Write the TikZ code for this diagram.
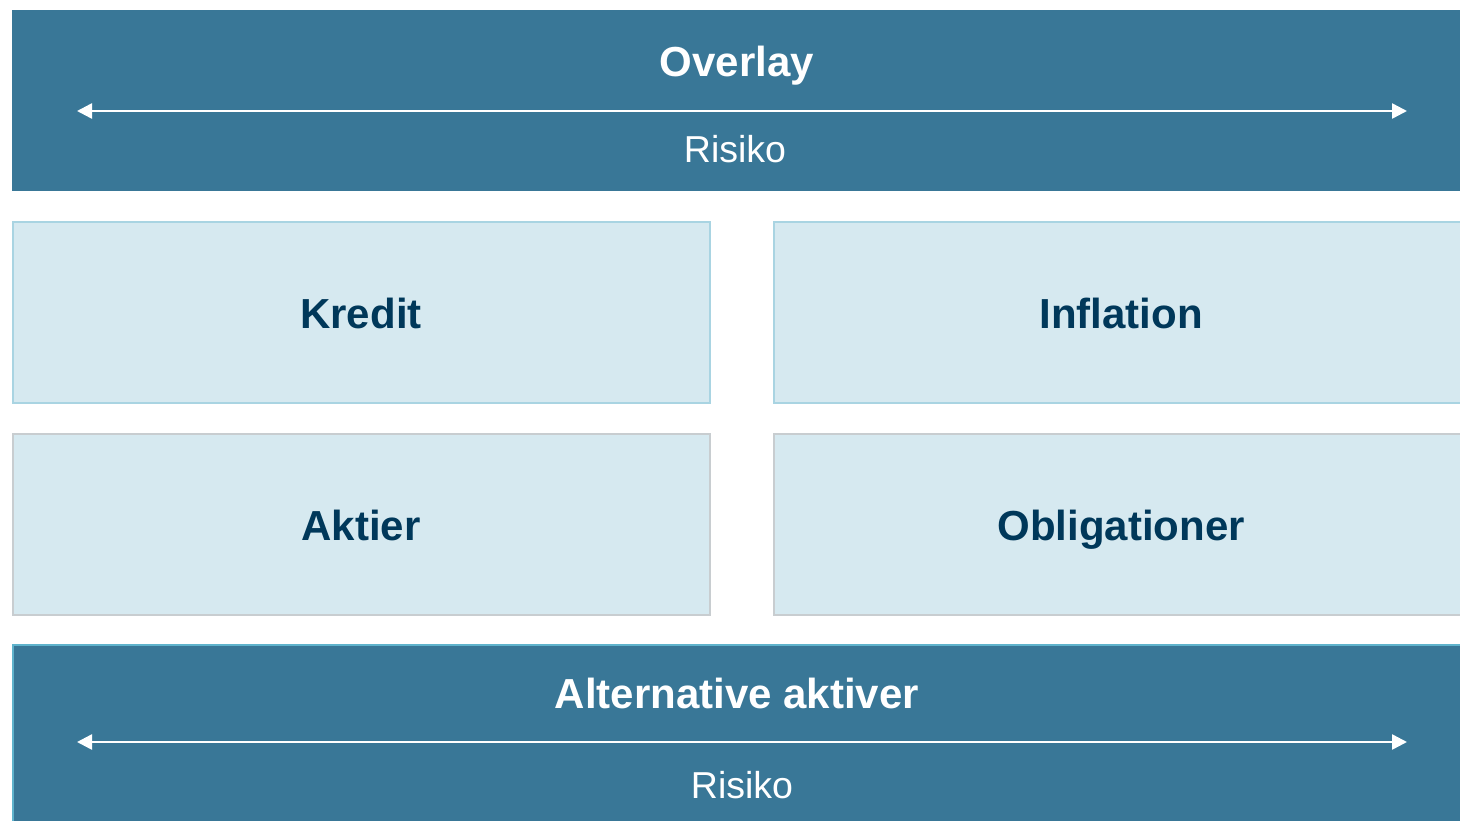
\documentclass[tikz,border=0pt]{standalone}
\usepackage{fontspec}
\setmainfont{Liberation Sans}
\usetikzlibrary{arrows.meta}
\definecolor{darkbox}{HTML}{397797}
\definecolor{lightbox}{HTML}{D6E9F0}
\definecolor{txtdark}{HTML}{00385A}
\definecolor{bordblue}{HTML}{A9D4E2}
\definecolor{bordgray}{HTML}{C8CDD0}
\definecolor{bordbot}{HTML}{5FB3CC}
\tikzset{
  x=1pt, y=-1pt,
  darkpanel/.style={fill=darkbox, draw=none},
  lightpanel/.style={fill=lightbox, draw=#1, line width=2pt},
  boldlbl/.style={font=\fontsize{42}{42}\selectfont\bfseries, text=txtdark, inner sep=0pt, text height=30pt, text depth=0pt},
  titlelbl/.style={font=\fontsize{42}{42}\selectfont\bfseries, text=white, inner sep=0pt, text height=30pt, text depth=0pt},
  risklbl/.style={font=\fontsize{37.5}{37.5}\selectfont, text=white, inner sep=0pt, text height=26.9pt, text depth=0pt},
  riskarrow/.style={draw=white, line width=2.5pt, {Triangle[length=15pt,width=15pt]}-{Triangle[length=15pt,width=15pt]}}
}
\begin{document}
\begin{tikzpicture}
\useasboundingbox (0,0) rectangle (1460,820);
\fill[white] (0,0) rectangle (1460,820);
% top panel
\path[darkpanel] (12,10) rectangle (1460,191);
\node[titlelbl] (overlay) at (737,61) {Overlay};
\coordinate (tl) at (77,111);
\coordinate (tr) at (1407,111);
\draw[riskarrow] (tl) -- (tr);
\node[risklbl] (risk1) at (735,149) {Risiko};
% middle boxes
\draw[lightpanel=bordblue] (13,222) rectangle (710,403);
\node[boldlbl] (kredit) at (361,313) {Kredit};
\draw[lightpanel=bordblue] (774,222) rectangle (1462,403);
\node[boldlbl] (inflation) at (1121,313) {Inflation};
\draw[lightpanel=bordgray] (13,434) rectangle (710,615);
\node[boldlbl] (aktier) at (361,525) {Aktier};
\draw[lightpanel=bordgray] (774,434) rectangle (1462,615);
\node[boldlbl] (oblig) at (1121,525) {Obligationer};
% bottom panel
\path[darkpanel] (12,644) rectangle (1460,822);
\draw[bordbot, line width=2pt] (13,822) -- (13,645) -- (1460,645);
\node[titlelbl] (alt) at (737,693) {Alternative aktiver};
\coordinate (bl) at (77,742);
\coordinate (br) at (1407,742);
\draw[riskarrow] (bl) -- (br);
\node[risklbl] (risk2) at (742,785) {Risiko};
\end{tikzpicture}
\end{document}
